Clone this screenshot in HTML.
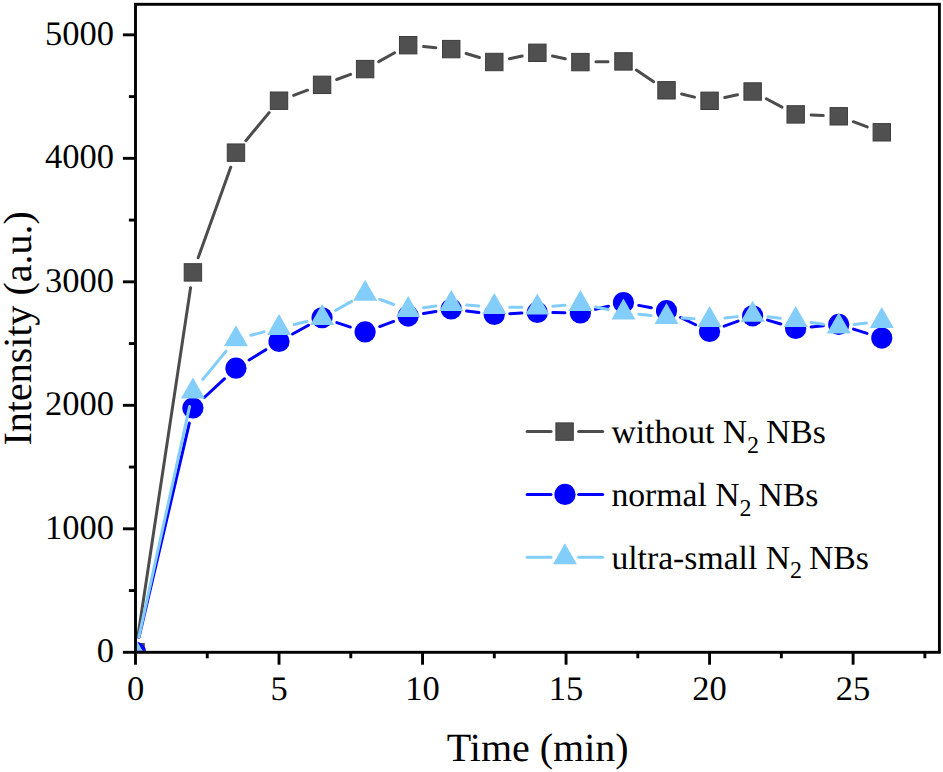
<!DOCTYPE html>
<html><head><meta charset="utf-8"><style>
html,body{margin:0;padding:0;background:#fff;width:943px;height:772px;overflow:hidden;}
svg{display:block;} text{text-rendering:geometricPrecision;}
</style></head><body>
<svg width="943" height="772" viewBox="0 0 943 772">
<rect width="943" height="772" fill="#fff"/>
<defs><clipPath id="pc"><rect x="136.95" y="5.75" width="801.0" height="645.1"/></clipPath></defs>
<g clip-path="url(#pc)"><g stroke="#4c4c4c" stroke-width="3.0" stroke-linecap="round" fill="none"><line x1="137.82" y1="636.97" x2="190.59" y2="287.73"/><line x1="198.15" y1="257.81" x2="230.72" y2="167.24"/><line x1="245.85" y1="140.72" x2="269.13" y2="112.63"/><line x1="293.57" y1="95.35" x2="307.53" y2="90.20"/><line x1="336.63" y1="79.53" x2="350.58" y2="74.42"/><line x1="378.68" y1="61.58" x2="394.64" y2="52.72"/><line x1="423.62" y1="46.60" x2="435.81" y2="47.70"/><line x1="466.09" y1="53.55" x2="479.45" y2="57.55"/><line x1="509.46" y1="58.76" x2="522.20" y2="56.04"/><line x1="552.51" y1="56.07" x2="565.26" y2="58.83"/><line x1="595.91" y1="61.85" x2="607.97" y2="61.65"/><line x1="636.34" y1="70.04" x2="653.65" y2="81.66"/><line x1="681.58" y1="93.97" x2="694.52" y2="97.13"/><line x1="724.73" y1="97.53" x2="737.49" y2="94.77"/><line x1="766.32" y1="98.78" x2="782.01" y2="107.12"/><line x1="811.18" y1="115.08" x2="823.26" y2="115.62"/><line x1="853.28" y1="121.70" x2="867.27" y2="126.90"/></g><g fill="#505050" stroke="#3c3c3c" stroke-width="1"><rect x="126.80" y="643.60" width="17.4" height="17.4"/><rect x="184.21" y="263.70" width="17.4" height="17.4"/><rect x="227.26" y="143.95" width="17.4" height="17.4"/><rect x="270.32" y="92.00" width="17.4" height="17.4"/><rect x="313.38" y="76.15" width="17.4" height="17.4"/><rect x="356.43" y="60.40" width="17.4" height="17.4"/><rect x="399.49" y="36.50" width="17.4" height="17.4"/><rect x="442.54" y="40.40" width="17.4" height="17.4"/><rect x="485.60" y="53.30" width="17.4" height="17.4"/><rect x="528.66" y="44.10" width="17.4" height="17.4"/><rect x="571.71" y="53.40" width="17.4" height="17.4"/><rect x="614.77" y="52.70" width="17.4" height="17.4"/><rect x="657.82" y="81.60" width="17.4" height="17.4"/><rect x="700.88" y="92.10" width="17.4" height="17.4"/><rect x="743.94" y="82.80" width="17.4" height="17.4"/><rect x="786.99" y="105.70" width="17.4" height="17.4"/><rect x="830.05" y="107.60" width="17.4" height="17.4"/><rect x="873.10" y="123.60" width="17.4" height="17.4"/></g><g stroke="#0000ff" stroke-width="3.0" stroke-linecap="round" fill="none"><line x1="139.05" y1="637.21" x2="189.36" y2="423.09"/><line x1="204.29" y1="397.48" x2="224.58" y2="378.72"/><line x1="249.14" y1="360.03" x2="265.85" y2="349.67"/><line x1="292.59" y1="334.01" x2="308.50" y2="325.24"/><line x1="336.80" y1="322.59" x2="350.41" y2="327.06"/><line x1="379.68" y1="326.56" x2="393.64" y2="321.44"/><line x1="423.48" y1="313.58" x2="435.95" y2="311.52"/><line x1="466.62" y1="310.93" x2="478.92" y2="312.47"/><line x1="509.78" y1="313.68" x2="521.87" y2="313.12"/><line x1="552.85" y1="312.62" x2="564.91" y2="312.78"/><line x1="595.47" y1="309.33" x2="608.41" y2="306.17"/><line x1="638.69" y1="305.40" x2="651.30" y2="307.80"/><line x1="680.48" y1="317.44" x2="695.62" y2="324.76"/><line x1="724.14" y1="326.19" x2="738.07" y2="321.11"/><line x1="767.51" y1="320.15" x2="780.82" y2="324.05"/><line x1="811.13" y1="326.97" x2="823.31" y2="325.83"/><line x1="853.52" y1="329.10" x2="867.03" y2="333.40"/></g><g fill="#0000ff"><circle cx="135.50" cy="652.30" r="10.6"/><circle cx="192.91" cy="408.00" r="10.6"/><circle cx="235.96" cy="368.20" r="10.6"/><circle cx="279.02" cy="341.50" r="10.6"/><circle cx="322.08" cy="317.75" r="10.6"/><circle cx="365.13" cy="331.90" r="10.6"/><circle cx="408.19" cy="316.10" r="10.6"/><circle cx="451.24" cy="309.00" r="10.6"/><circle cx="494.30" cy="314.40" r="10.6"/><circle cx="537.36" cy="312.40" r="10.6"/><circle cx="580.41" cy="313.00" r="10.6"/><circle cx="623.47" cy="302.50" r="10.6"/><circle cx="666.52" cy="310.70" r="10.6"/><circle cx="709.58" cy="331.50" r="10.6"/><circle cx="752.64" cy="315.80" r="10.6"/><circle cx="795.69" cy="328.40" r="10.6"/><circle cx="838.75" cy="324.40" r="10.6"/><circle cx="881.80" cy="338.10" r="10.6"/></g><g stroke="#83cdfb" stroke-width="3.0" stroke-linecap="round" fill="none"><line x1="138.83" y1="637.16" x2="189.58" y2="406.54"/><line x1="202.77" y1="379.44" x2="226.10" y2="351.16"/><line x1="250.96" y1="335.27" x2="264.03" y2="331.83"/><line x1="294.13" y1="324.43" x2="306.97" y2="321.47"/><line x1="335.59" y1="310.41" x2="351.62" y2="301.39"/><line x1="379.65" y1="299.23" x2="393.67" y2="304.47"/><line x1="423.54" y1="307.76" x2="435.89" y2="306.04"/><line x1="466.70" y1="305.05" x2="478.84" y2="305.95"/><line x1="509.80" y1="307.24" x2="521.86" y2="307.36"/><line x1="552.80" y1="306.21" x2="564.97" y2="305.19"/><line x1="595.60" y1="306.97" x2="608.28" y2="309.53"/><line x1="638.89" y1="314.18" x2="651.10" y2="315.42"/><line x1="681.99" y1="318.04" x2="694.12" y2="318.86"/><line x1="724.97" y1="318.08" x2="737.24" y2="316.62"/><line x1="768.02" y1="316.69" x2="780.31" y2="318.21"/><line x1="811.02" y1="322.41" x2="823.42" y2="324.29"/><line x1="854.12" y1="324.60" x2="866.43" y2="323.00"/></g><g fill="#83cdfb"><polygon points="135.50,638.30 123.50,659.30 147.50,659.30"/><polygon points="192.91,377.40 180.91,398.40 204.91,398.40"/><polygon points="235.96,325.20 223.96,346.20 247.96,346.20"/><polygon points="279.02,313.90 267.02,334.90 291.02,334.90"/><polygon points="322.08,304.00 310.08,325.00 334.08,325.00"/><polygon points="365.13,279.80 353.13,300.80 377.13,300.80"/><polygon points="408.19,295.90 396.19,316.90 420.19,316.90"/><polygon points="451.24,289.90 439.24,310.90 463.24,310.90"/><polygon points="494.30,293.10 482.30,314.10 506.30,314.10"/><polygon points="537.36,293.50 525.36,314.50 549.36,314.50"/><polygon points="580.41,289.90 568.41,310.90 592.41,310.90"/><polygon points="623.47,298.60 611.47,319.60 635.47,319.60"/><polygon points="666.52,303.00 654.52,324.00 678.52,324.00"/><polygon points="709.58,305.90 697.58,326.90 721.58,326.90"/><polygon points="752.64,300.80 740.64,321.80 764.64,321.80"/><polygon points="795.69,306.10 783.69,327.10 807.69,327.10"/><polygon points="838.75,312.60 826.75,333.60 850.75,333.60"/><polygon points="881.80,307.00 869.80,328.00 893.80,328.00"/></g></g>
<rect x="135.5" y="4.3" width="803.9" height="648.0" fill="none" stroke="#000" stroke-width="2.9"/><g stroke="#000" stroke-width="2.9" stroke-linecap="butt"><line x1="122.9" y1="652.30" x2="135.5" y2="652.30"/><line x1="122.9" y1="528.81" x2="135.5" y2="528.81"/><line x1="122.9" y1="405.32" x2="135.5" y2="405.32"/><line x1="122.9" y1="281.83" x2="135.5" y2="281.83"/><line x1="122.9" y1="158.34" x2="135.5" y2="158.34"/><line x1="122.9" y1="34.85" x2="135.5" y2="34.85"/><line x1="128.9" y1="590.55" x2="135.5" y2="590.55"/><line x1="128.9" y1="467.06" x2="135.5" y2="467.06"/><line x1="128.9" y1="343.57" x2="135.5" y2="343.57"/><line x1="128.9" y1="220.08" x2="135.5" y2="220.08"/><line x1="128.9" y1="96.60" x2="135.5" y2="96.60"/><line x1="135.50" y1="652.3" x2="135.50" y2="664.6999999999999"/><line x1="279.02" y1="652.3" x2="279.02" y2="664.6999999999999"/><line x1="422.54" y1="652.3" x2="422.54" y2="664.6999999999999"/><line x1="566.06" y1="652.3" x2="566.06" y2="664.6999999999999"/><line x1="709.58" y1="652.3" x2="709.58" y2="664.6999999999999"/><line x1="853.10" y1="652.3" x2="853.10" y2="664.6999999999999"/><line x1="207.26" y1="652.3" x2="207.26" y2="658.3"/><line x1="350.78" y1="652.3" x2="350.78" y2="658.3"/><line x1="494.30" y1="652.3" x2="494.30" y2="658.3"/><line x1="637.82" y1="652.3" x2="637.82" y2="658.3"/><line x1="781.34" y1="652.3" x2="781.34" y2="658.3"/><line x1="924.86" y1="652.3" x2="924.86" y2="658.3"/></g>
<g font-family="'Liberation Serif', serif" font-size="34.5" fill="#000"><text x="113.9" y="662.30" text-anchor="end">0</text><text x="113.9" y="538.81" text-anchor="end">1000</text><text x="113.9" y="415.32" text-anchor="end">2000</text><text x="113.9" y="291.83" text-anchor="end">3000</text><text x="113.9" y="168.34" text-anchor="end">4000</text><text x="113.9" y="44.85" text-anchor="end">5000</text><text x="135.50" y="700.3" text-anchor="middle">0</text><text x="279.02" y="700.3" text-anchor="middle">5</text><text x="422.54" y="700.3" text-anchor="middle">10</text><text x="566.06" y="700.3" text-anchor="middle">15</text><text x="709.58" y="700.3" text-anchor="middle">20</text><text x="853.10" y="700.3" text-anchor="middle">25</text><text x="537.7" y="760.6" text-anchor="middle" font-size="40">Time (min)</text><text transform="translate(31.3,328.3) rotate(-90)" text-anchor="middle" font-size="40">Intensity (a.u.)</text><g stroke="#4c4c4c" stroke-width="3.0" stroke-linecap="round"><line x1="527.1" y1="431.6" x2="551.0" y2="431.6"/><line x1="578.7" y1="431.6" x2="602.7" y2="431.6"/></g><g fill="#505050" stroke="#3c3c3c" stroke-width="1"><rect x="555.90" y="422.90" width="17.4" height="17.4"/></g><text x="611.4" y="443.30" font-size="33.7">without N<tspan font-size="24" dy="9.4">2</tspan><tspan dy="-9.4" dx="-1.6"> NBs</tspan></text><g stroke="#0000ff" stroke-width="3.0" stroke-linecap="round"><line x1="527.1" y1="494.4" x2="551.0" y2="494.4"/><line x1="578.7" y1="494.4" x2="602.7" y2="494.4"/></g><g fill="#0000ff"><circle cx="565.00" cy="494.40" r="10.6"/></g><text x="611.4" y="506.10" font-size="33.7">normal N<tspan font-size="24" dy="9.4">2</tspan><tspan dy="-9.4" dx="-1.6"> NBs</tspan></text><g stroke="#83cdfb" stroke-width="3.0" stroke-linecap="round"><line x1="527.1" y1="557.2" x2="551.0" y2="557.2"/><line x1="578.7" y1="557.2" x2="602.7" y2="557.2"/></g><g fill="#83cdfb"><polygon points="564.90,543.20 552.90,564.20 576.90,564.20"/></g><text x="611.4" y="568.90" font-size="33.7">ultra-small N<tspan font-size="24" dy="9.4">2</tspan><tspan dy="-9.4" dx="-1.6"> NBs</tspan></text></g>
</svg>
</body></html>
